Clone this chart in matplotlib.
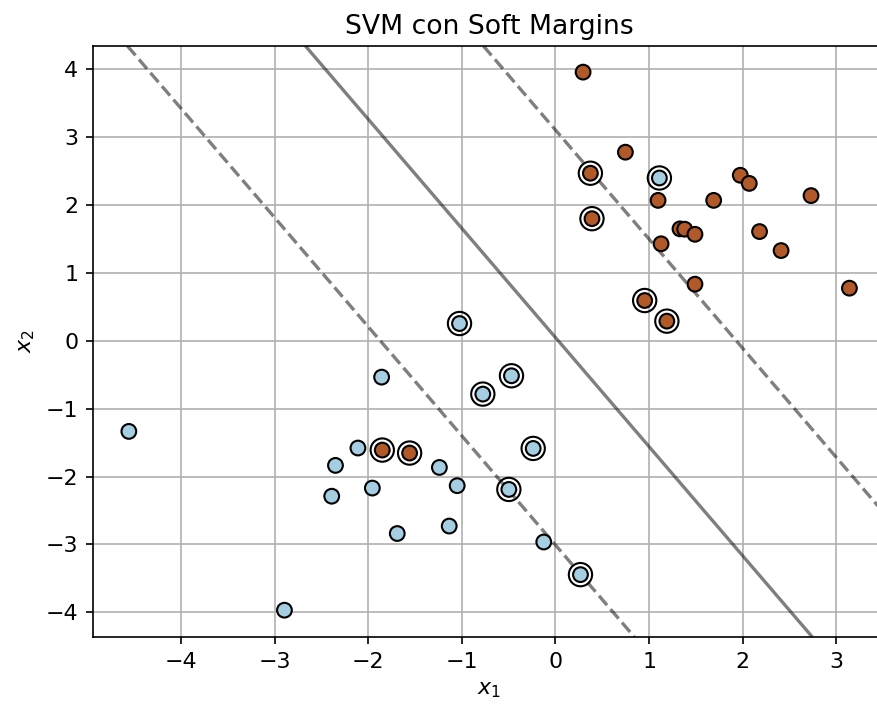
import numpy as np
import matplotlib
matplotlib.use("Agg")
import matplotlib.pyplot as plt

# Training points (x1, x2) and class labels
x1 = [0.295, 0.747, 0.373, 1.974, 2.07, 2.73, 1.096, 1.69, 0.39, 1.33,
      1.38, 1.49, 2.18, 2.41, 1.128, 1.49, 3.14, 0.953, 1.19, -1.85, -1.558,
      1.11, -1.025, -1.857, -0.776, -4.557, -2.11, -2.35, -1.24, -1.956, -1.05,
      -2.39, -1.135, -1.69, -2.895, -0.47, -0.238, -0.498, -0.125, 0.267]
x2 = [3.96, 2.78, 2.47, 2.44, 2.32, 2.14, 2.07, 2.07, 1.80, 1.65,
      1.645, 1.57, 1.61, 1.33, 1.43, 0.835, 0.776, 0.594, 0.29, -1.61, -1.654,
      2.40, 0.255, -0.535, -0.785, -1.335, -1.58, -1.836, -1.866, -2.17, -2.135,
      -2.29, -2.73, -2.84, -3.97, -0.515, -1.586, -2.19, -2.965, -3.446]
labels = [1] * 21 + [0] * 19

# Support vectors of the fitted soft-margin classifier
sv_x1 = [0.373, 0.39, 0.953, 1.19, -1.85, -1.558,
         1.11, -1.025, -0.776, -0.47, -0.238, -0.498, 0.267]
sv_x2 = [2.47, 1.80, 0.594, 0.29, -1.61, -1.654,
         2.40, 0.255, -0.785, -0.515, -1.586, -2.19, -3.446]

# Linear decision function w . x + b
coef = [0.526, 0.327]
intercept = -0.016

plt.rcParams["font.size"] = 10.6

fig = plt.figure(figsize=(877 / 150, 706 / 150), dpi=150)
ax = fig.add_axes([93 / 877, 69 / 706, (885 - 93) / 877, (637 - 46) / 706])

ax.scatter(x1, x2, c=labels, cmap=plt.cm.Paired, s=50, edgecolors="k", zorder=3)

xlim = (-4.94, 3.52)
ylim = (-4.365, 4.345)
xx = np.linspace(xlim[0], xlim[1], 60)
yy = np.linspace(ylim[0], ylim[1], 60)
XX, YY = np.meshgrid(xx, yy)
Z = coef[0] * XX + coef[1] * YY + intercept
ax.contour(XX, YY, Z, colors="k", levels=[-1, 0, 1], alpha=0.5,
           linestyles=["--", "-", "--"], linewidths=1.6)

ax.scatter(sv_x1, sv_x2, s=125, linewidth=1, facecolors="none",
           edgecolors="k", zorder=3)

ax.set_xlim(xlim)
ax.set_ylim(ylim)
ax.set_xticks(range(-4, 4))
ax.set_yticks(range(-4, 5))
ax.grid(True)
ax.set_axisbelow(True)
ax.set_xlabel("$x_1$")
ax.set_ylabel("$x_2$")
ax.set_title("SVM con Soft Margins", fontsize=12.8)

fig.savefig("out.png", dpi=150)
